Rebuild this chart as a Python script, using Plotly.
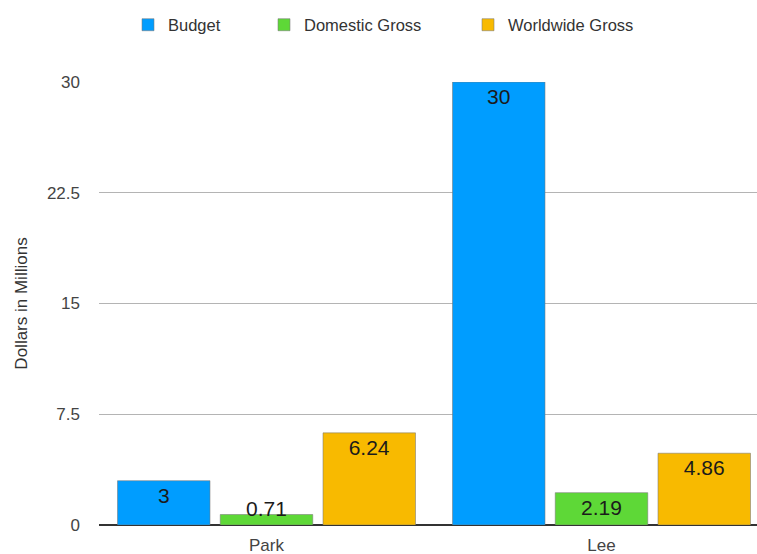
import plotly.graph_objects as go

categories = ["Park", "Lee"]
series_names = ["Budget", "Domestic Gross", "Worldwide Gross"]
budget = [3, 30]
domestic = [0.71, 2.19]
worldwide = [6.24, 4.86]
y_ticks = [0, 7.5, 15, 22.5, 30]
y_tick_labels = ["0", "7.5", "15", "22.5", "30"]

colors = ["#009DFF", "#5ED837", "#F8BA00"]
FONT = "Liberation Sans, Arial, Helvetica, sans-serif"

W, H = 757, 554
ML, MR, MT, MB = 99, 0, 82, 29
pw = W - ML - MR
ph = H - MT - MB
cat_px = 335.0  # pixel width of one category slot
YMAX = 30

bar_px = 92.5
gap_px = 10.25
slot_px = bar_px + gap_px
bargroupgap = gap_px / slot_px
bargap = 1 - 3 * slot_px / cat_px

all_series = [budget, domestic, worldwide]
fig = go.Figure()
legend_ids = ["legend", "legend2", "legend3"]
annotations = []
for i, (name, vals, col, lg) in enumerate(zip(series_names, all_series, colors, legend_ids)):
    texts = []
    for ci, v in enumerate(vals):
        h_px = v / YMAX * ph
        if h_px >= 26:
            texts.append(f"{v:g}")
        else:
            texts.append("")
            annotations.append(dict(
                x=ci + (i - 1) * slot_px / cat_px, xref="x",
                y=0, yref="y", yanchor="bottom", yshift=3,
                text=f"{v:g}", showarrow=False,
                font=dict(family=FONT, size=21, color="#1b1b1b"),
            ))
    fig.add_trace(go.Bar(
        name=name, x=categories, y=vals, text=texts,
        marker=dict(color=col, line=dict(color="rgba(120,120,120,0.55)", width=1)),
        texttemplate="%{text}", textposition="inside", insidetextanchor="end",
        constraintext="none", textangle=0,
        textfont=dict(family=FONT, size=21, color="#1b1b1b"),
        legend=lg, showlegend=True, hoverinfo="skip",
    ))

legend_px = [128, 264, 468]
legend_cfg = {}
for lg, px in zip(legend_ids, legend_px):
    legend_cfg[lg] = dict(
        x=(px - ML) / pw, xanchor="left",
        y=(H - MB - 25) / ph, yanchor="middle",
        orientation="h", bgcolor="rgba(0,0,0,0)", borderwidth=0,
        font=dict(family=FONT, size=16.5, color="#333333"),
    )

fig.update_layout(
    width=W, height=H,
    margin=dict(l=ML, r=MR, t=MT, b=MB, pad=0),
    paper_bgcolor="white", plot_bgcolor="white",
    barmode="group", bargap=bargap, bargroupgap=bargroupgap,
    font=dict(family=FONT, color="#444444"),
    annotations=annotations,
    **legend_cfg,
)
fig.update_xaxes(
    range=[-0.5, -0.5 + pw / cat_px],
    showgrid=False, showline=False, zeroline=False, ticks="",
    tickfont=dict(family=FONT, size=17, color="#444444"),
    ticklabelstandoff=8,
)
fig.update_yaxes(
    range=[0, YMAX], tickvals=y_ticks, ticktext=y_tick_labels,
    showgrid=True, gridcolor="#b4b4b4", gridwidth=1,
    zeroline=True, zerolinecolor="#333333", zerolinewidth=1.5,
    showline=False, ticks="",
    tickfont=dict(family=FONT, size=17, color="#444444"),
    ticklabelstandoff=18,
    title=dict(text="Dollars in Millions", font=dict(family=FONT, size=17, color="#333333"), standoff=14),
    automargin=False,
)

fig.write_html("out.html")
